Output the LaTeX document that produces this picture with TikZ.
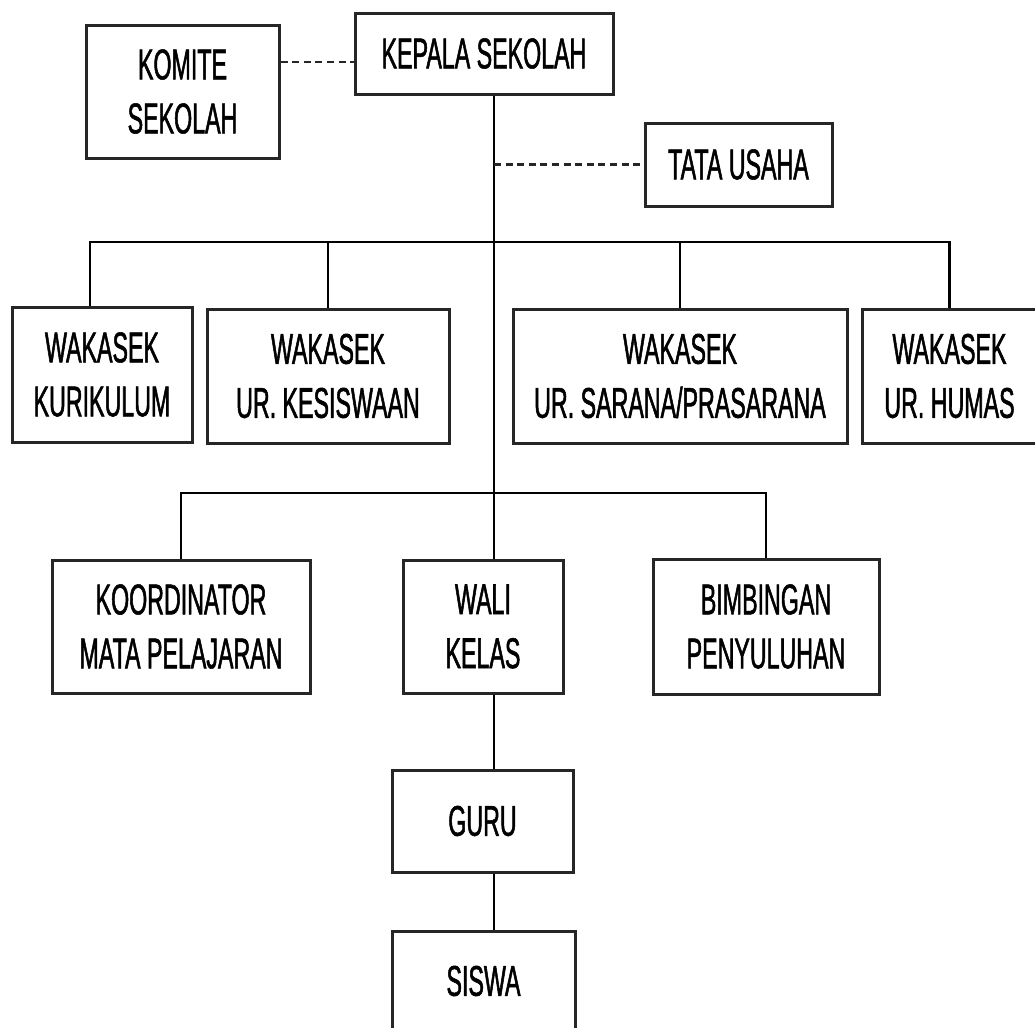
\documentclass[tikz,border=0pt]{standalone}
\usepackage{fontspec}
\setmainfont{Liberation Sans}[FakeStretch=0.54,FakeBold=1.2]
\begin{document}
\begin{tikzpicture}[x=0.5pt,y=-0.5pt,
  box/.style={draw=black!85, line width=1.5pt, inner sep=0pt, align=center,
    font=\fontsize{21.5}{27}\selectfont},
  link/.style={draw=black, line width=1.1pt},
  dashlink/.style={draw=black!85, line width=1.4pt, dash pattern=on 3.5pt off 2.3pt}]
\useasboundingbox (0,0) rectangle (1035,1028);
% boxes
\node[box, minimum width=96.5pt, minimum height=66.5pt] (komite) at (182.5,91.5) {KOMITE\\SEKOLAH};
\node[box, minimum width=129pt, minimum height=40.5pt] (kepala) at (484,53.5) {KEPALA SEKOLAH};
\node[box, minimum width=93.5pt, minimum height=41.5pt] (tata) at (738.5,164.5) {TATA USAHA};
\node[box, minimum width=90pt, minimum height=67.5pt] (kurikulum) at (102,374.5) {WAKASEK\\KURIKULUM};
\node[box, minimum width=121pt, minimum height=67pt] (kesiswaan) at (328,376) {WAKASEK\\UR. KESISWAAN};
\node[box, minimum width=167pt, minimum height=67pt] (sarana) at (680,376) {WAKASEK\\UR. SARANA/PRASARANA};
\node[box, minimum width=87.5pt, minimum height=67pt] (humas) at (949.5,376) {WAKASEK\\UR. HUMAS};
\node[box, minimum width=129pt, minimum height=66.5pt] (koordinator) at (181,626.5) {KOORDINATOR\\MATA PELAJARAN};
\node[box, minimum width=80pt, minimum height=66.5pt] (wali) at (483,626.5) {WALI\\KELAS};
\node[box, minimum width=113pt, minimum height=67.5pt] (bimbingan) at (766,626.5) {BIMBINGAN\\PENYULUHAN};
\node[box, minimum width=90.5pt, minimum height=51pt] (guru) at (482.5,821) {GURU};
\node[box, minimum width=91.5pt, minimum height=50pt] (siswa) at (483.5,981) {SISWA};
% helper coordinates
\coordinate (d1) at (0,62);
\coordinate (t) at (494,0);
\coordinate (c1) at (90,242);
\coordinate (c2) at (494,493);
% connectors
\draw[dashlink] (komite.east |- d1) -- (kepala.west |- d1);
\draw[link] (kepala.south -| t) -- (wali.north -| t);
\draw[dashlink] (t |- tata.west) -- (tata.west);
\draw[link] (kurikulum.north -| c1) -- (c1) -- (humas.north |- c1) -- (humas.north);
\draw[link] (kesiswaan.north |- c1) -- (kesiswaan.north);
\draw[link] (sarana.north |- c1) -- (sarana.north);
\draw[link] (koordinator.north) -- (koordinator.north |- c2) -- (bimbingan.north |- c2) -- (bimbingan.north);
\draw[link] (wali.south -| t) -- (guru.north -| t);
\draw[link] (guru.south -| t) -- (siswa.north -| t);
\end{tikzpicture}
\end{document}
